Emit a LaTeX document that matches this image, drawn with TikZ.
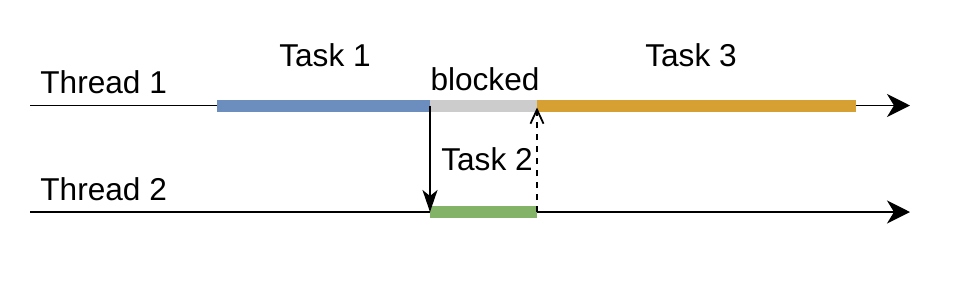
\documentclass[tikz,border=0pt]{standalone}
\usepackage{fontspec}
\setmainfont{Liberation Sans}
\usepackage{xcolor}
\usepackage{tikz}
\usetikzlibrary{arrows.meta}

\definecolor{taskblue}{HTML}{6C8EBF}
\definecolor{taskgray}{HTML}{CCCCCC}
\definecolor{taskorange}{HTML}{D6A033}
\definecolor{taskgreen}{HTML}{82B366}

\tikzset{
    thread/.style={line width=0.9pt, -{Stealth[length=11.5pt,width=11.5pt,inset=3.5pt]}},
    taskbar/.style={line width=6pt, line cap=butt},
    lbl/.style={inner sep=0pt, font=\fontsize{15.8}{18}\selectfont},
}

\begin{document}
\begin{tikzpicture}[x=0.5pt,y=-0.5pt]

    \useasboundingbox (0,0) rectangle (966,290);

    % Punten
    \coordinate (t1a) at (30,105.5);
    \coordinate (t1b) at (217,105.5);
    \coordinate (t1c) at (430,105.5);
    \coordinate (t1d) at (537,105.5);
    \coordinate (t1e) at (856,105.5);
    \coordinate (t1f) at (910,105.5);
    \coordinate (t2a) at (30,212);
    \coordinate (t2c) at (430,212);
    \coordinate (t2d) at (537,212);
    \coordinate (t2f) at (910,212);

    % Draden
    \draw[thread] (t1a) -- (t1f);
    \draw[thread] (t2a) -- (t2f);

    % Taken
    \draw[taskbar, taskblue] (t1b) -- (t1c);
    \draw[taskbar, taskgray] (t1c) -- (t1d);
    \draw[taskbar, taskorange] (t1d) -- (t1e);
    \draw[taskbar, taskgreen] (t2c) -- (t2d);

    % Overdracht
    \draw[line width=0.9pt, -{Stealth[length=11pt,width=7.5pt,inset=3pt]}] (t1c) -- (t2c);
    \draw[line width=0.9pt, dashed, -{Straight Barb[length=7pt,width=6.5pt]}] (t2d) -- ([yshift=-1pt]t1d);

    % Teksten
    \node[lbl, anchor=base west] (th1) at (40,93) {Thread 1};
    \node[lbl, anchor=base west] (th2) at (40,200) {Thread 2};
    \node[lbl, anchor=base] (task1) at (325,66) {Task 1};
    \node[lbl, anchor=base] (blk) at (485,90) {blocked};
    \node[lbl, anchor=base] (task3) at (691,66) {Task 3};
    \node[lbl, anchor=base] (task2) at (487,170) {Task 2};

\end{tikzpicture}
\end{document}
